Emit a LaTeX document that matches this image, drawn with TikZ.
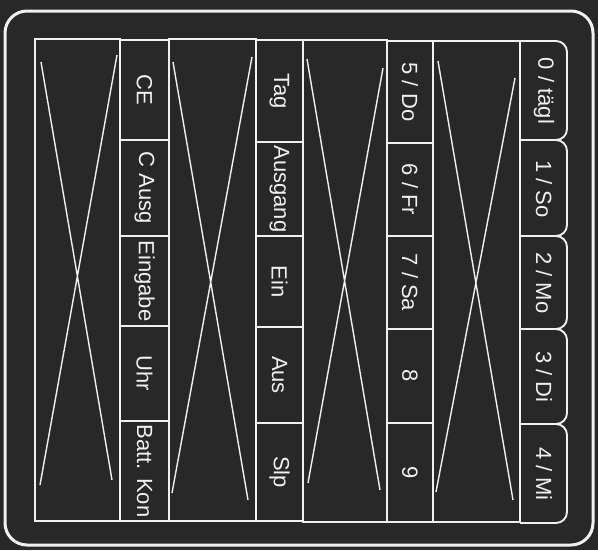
\documentclass[tikz,border=0pt]{standalone}
\usepackage{fontspec}
\setmainfont{Liberation Sans}
\definecolor{bg}{RGB}{40,40,40}
\definecolor{ink}{RGB}{240,240,240}
\begin{document}
\begin{tikzpicture}[x=1pt,y=-1pt,
  keybox/.style={draw=ink, line width=1.9pt, rotate=-90, inner sep=0pt,
    text=ink, font=\fontsize{22}{22}\selectfont},
  tablbl/.style={rotate=-90, inner sep=0pt, text=ink, font=\fontsize{22}{22}\selectfont},
  grid/.style={draw=ink, line width=1.9pt},
  cross/.style={draw=ink, line width=1.4pt},
  tab/.style={draw=ink, line width=1.9pt, rounded corners=11pt}]
\fill[bg] (0,0) rectangle (598,550);
\useasboundingbox (0,0) rectangle (598,550);
% outer frame
\draw[draw=ink, line width=3pt, rounded corners=22pt] (5,11) rectangle (593,545);
% blank boxes with crosses
\draw[grid] (35,39) rectangle (120,521);
\draw[cross] (41,62) -- (112,480) (117,55) -- (40,485);
\draw[grid] (169,39) rectangle (256,521);
\draw[cross] (173,62) -- (248,500) (252,57) -- (172,493);
\draw[grid] (303,40) rectangle (387,522);
\draw[cross] (307,59) -- (380,490) (383,68) -- (308,483);
\draw[grid] (433,41) rectangle (520,522);
\draw[cross] (438,61) -- (513,500) (515,78) -- (436,492);
% column 1 keys (x 120-169)
\node[keybox, minimum width=100pt, minimum height=49pt] (ce)   at (144.5,90)    {CE};
\node[keybox, minimum width=96pt,  minimum height=49pt] (causg) at (144.5,188)  {C Ausg};
\node[keybox, minimum width=90pt,  minimum height=49pt] (eing) at (144.5,281)   {Eingabe};
\node[keybox, minimum width=95pt,  minimum height=49pt] (uhr)  at (144.5,373.5) {Uhr};
\node[keybox, minimum width=100pt, minimum height=49pt] (batt) at (144.5,471)   {Batt. Kon};
% column 2 keys (x 256-303)
\node[keybox, minimum width=102pt, minimum height=47pt] (tag)  at (279.5,91)    {Tag};
\node[keybox, minimum width=94pt,  minimum height=47pt] (ausg) at (279.5,189)   {Ausgang};
\node[keybox, minimum width=91pt,  minimum height=47pt] (ein)  at (279.5,281.5) {Ein};
\node[keybox, minimum width=96pt,  minimum height=47pt] (aus)  at (279.5,375)   {Aus};
\node[keybox, minimum width=98pt,  minimum height=47pt] (slp)  at (279.5,472)   {Slp};
% column 3 keys (x 387-433)
\node[keybox, minimum width=102pt, minimum height=46pt] (k5) at (410,92)    {5 / Do};
\node[keybox, minimum width=93pt,  minimum height=46pt] (k6) at (410,189.5) {6 / Fr};
\node[keybox, minimum width=93pt,  minimum height=46pt] (k7) at (410,282.5) {7 / Sa};
\node[keybox, minimum width=94pt,  minimum height=46pt] (k8) at (410,376)   {8};
\node[keybox, minimum width=99pt,  minimum height=46pt] (k9) at (410,472.5) {9};
% column 4 tab keys (x 520-567)
\draw[tab] (520,41)  -- (567,41)  -- (567,140) -- (520,140);
\draw[tab] (520,140) -- (567,140) -- (567,236) -- (520,236);
\draw[tab] (520,236) -- (567,236) -- (567,329) -- (520,329);
\draw[tab] (520,329) -- (567,329) -- (567,424) -- (520,424);
\draw[tab] (520,424) -- (567,424) -- (567,523) -- (520,523);
\node[tablbl] (k0) at (544,91)    {0 / tägl};
\node[tablbl] (k1) at (544,189)   {1 / So};
\node[tablbl] (k2) at (544,283)   {2 / Mo};
\node[tablbl] (k3) at (544,377)   {3 / Di};
\node[tablbl] (k4) at (544,474)   {4 / Mi};
\end{tikzpicture}
\end{document}
